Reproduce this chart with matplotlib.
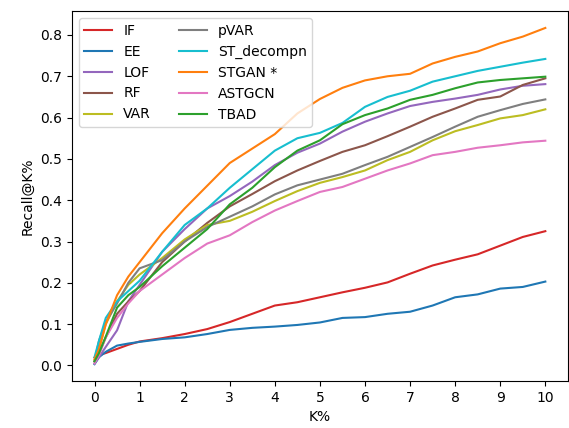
import matplotlib
matplotlib.use('Agg')
import matplotlib.pyplot as plt

# K% sample points
k_pct = [0, 0.1, 0.25, 0.5, 0.75, 1, 1.5, 2, 2.5, 3, 3.5, 4, 4.5, 5,
         5.5, 6, 6.5, 7, 7.5, 8, 8.5, 9, 9.5, 10]

recall_if = [0.019, 0.025, 0.03, 0.04, 0.05, 0.058, 0.066, 0.076, 0.088, 0.105, 0.125, 0.145,
             0.153, 0.165, 0.177, 0.188, 0.201, 0.222, 0.242, 0.256, 0.269, 0.29, 0.311, 0.325]
recall_ee = [0.003, 0.02, 0.033, 0.048, 0.053, 0.057, 0.064, 0.068, 0.076, 0.086, 0.091, 0.094,
             0.098, 0.104, 0.115, 0.117, 0.125, 0.13, 0.145, 0.165, 0.172, 0.186, 0.19, 0.203]
recall_lof = [0.005, 0.02, 0.045, 0.085, 0.155, 0.195, 0.275, 0.33, 0.38, 0.41, 0.445, 0.485,
              0.515, 0.537, 0.566, 0.59, 0.61, 0.628, 0.638, 0.646, 0.655, 0.668, 0.677, 0.681]
recall_rf = [0.01, 0.03, 0.068, 0.125, 0.155, 0.18, 0.25, 0.30, 0.345, 0.385, 0.415, 0.446,
             0.472, 0.495, 0.517, 0.533, 0.555, 0.578, 0.602, 0.622, 0.643, 0.651, 0.679, 0.695]
recall_var = [0.01, 0.04, 0.10, 0.155, 0.195, 0.22, 0.26, 0.305, 0.34, 0.35, 0.372, 0.398,
              0.422, 0.442, 0.456, 0.472, 0.497, 0.517, 0.545, 0.567, 0.582, 0.598, 0.606, 0.620]
recall_pvar = [0.01, 0.06, 0.105, 0.15, 0.2, 0.235, 0.255, 0.30, 0.335, 0.36, 0.385, 0.414,
               0.436, 0.45, 0.464, 0.485, 0.505, 0.529, 0.553, 0.578, 0.602, 0.618, 0.633, 0.644]
recall_st = [0.02, 0.06, 0.115, 0.155, 0.18, 0.205, 0.275, 0.34, 0.38, 0.43, 0.475, 0.52,
             0.55, 0.563, 0.587, 0.626, 0.65, 0.665, 0.687, 0.70, 0.713, 0.723, 0.733, 0.742]
recall_stgan = [0.015, 0.04, 0.10, 0.17, 0.215, 0.25, 0.32, 0.38, 0.435, 0.49, 0.525, 0.56,
                0.61, 0.645, 0.672, 0.69, 0.70, 0.706, 0.731, 0.747, 0.76, 0.78, 0.796, 0.817]
recall_astgcn = [0.005, 0.025, 0.068, 0.115, 0.15, 0.18, 0.22, 0.26, 0.295, 0.315, 0.347, 0.375,
                 0.398, 0.42, 0.432, 0.452, 0.472, 0.489, 0.509, 0.517, 0.527, 0.533, 0.54, 0.544]
recall_tbad = [0.01, 0.03, 0.07, 0.14, 0.17, 0.19, 0.24, 0.285, 0.33, 0.39, 0.43, 0.48,
               0.52, 0.545, 0.584, 0.606, 0.622, 0.643, 0.655, 0.671, 0.685, 0.691, 0.695, 0.699]

series = [
    ("IF", recall_if, "tab:red"),
    ("EE", recall_ee, "tab:blue"),
    ("LOF", recall_lof, "tab:purple"),
    ("RF", recall_rf, "tab:brown"),
    ("VAR", recall_var, "tab:olive"),
    ("pVAR", recall_pvar, "tab:gray"),
    ("ST_decompn", recall_st, "tab:cyan"),
    ("STGAN *", recall_stgan, "tab:orange"),
    ("ASTGCN", recall_astgcn, "tab:pink"),
    ("TBAD", recall_tbad, "tab:green"),
]

fig = plt.figure(figsize=(5.69, 4.28), dpi=100)
ax = fig.add_axes([0.1265, 0.1098, 0.8715, 0.8642])

for name, vals, color in series:
    ax.plot(k_pct, vals, color=color, label=name, linewidth=1.5)

ax.set_xticks(range(0, 11))
ax.set_xlabel("K%")
ax.set_ylabel("Recall@K%")
ax.legend(loc="upper left", ncol=2)

fig.savefig("out.png", dpi=100)
